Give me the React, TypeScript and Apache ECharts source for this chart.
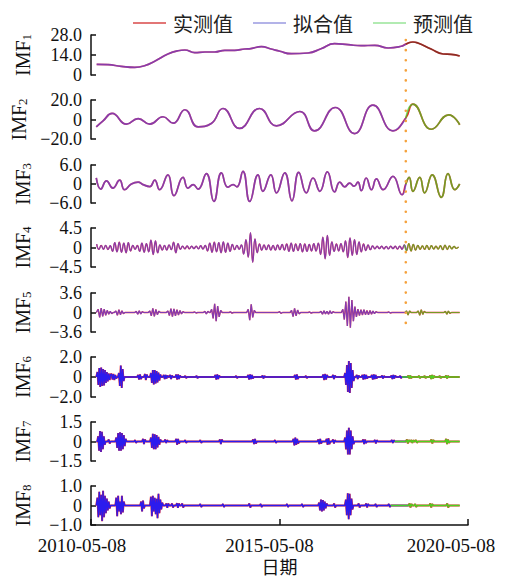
import React, { useEffect, useRef } from 'react';
import * as echarts from 'echarts';

// x values are years since 2010-05-08
const DATE_LABELS = ['2010-05-08', '2015-05-08', '2020-05-08'];
const X_MIN = 0;
const X_MAX = 10;
const X_INTERVAL = 5;
const SPLIT = 8.35; // start of the forecast period
const DATA_START = 0.14;
const DATA_END = 9.78;
const LEGEND_NAMES = ['实测值', '拟合值', '预测值'];
const X_NAME = '日期';

const Y_MAX = [28, 20, 6, 4.5, 3.6, 2, 1.5, 1];
const Y_MIN = [0, -20, -6, -4.5, -3.6, -2, -1.5, -1];
const Y_INTERVAL = [14, 20, 6, 4.5, 3.6, 2, 1.5, 1];

const IMF1: number[][] = [
  [0.15, 7.4], [0.45, 7.2], [0.8, 6.1], [1.16, 5.4], [1.42, 6.5], [1.69, 9.6], [2.04, 14.7],
  [2.31, 17.0], [2.49, 17.5], [2.75, 15.6], [3.02, 16.1], [3.28, 16.1], [3.55, 17.3], [3.81, 17.3],
  [4.08, 18.2], [4.24, 18.5], [4.52, 19.8], [4.78, 18.2], [5.01, 16.6], [5.31, 14.9], [5.76, 15.4],
  [6.1, 18.4], [6.46, 21.9], [6.82, 21.2], [7.16, 20.5], [7.53, 20.8], [7.88, 18.9], [8.23, 20.1],
  [8.35, 21.6], [8.54, 23.1], [8.67, 22.4], [9.02, 18.2], [9.34, 14.7], [9.55, 14.5], [9.78, 13.3],
];

const IMF2: number[][] = [
  [0.14, -7.5], [0.32, -1.4], [0.56, 6.2], [0.94, -4.8], [1.25, 1.0], [1.56, -4.8], [1.91, 2.8],
  [2.18, -3.8], [2.49, 10], [2.84, -7.5], [3.19, -4.1], [3.5, 11.3], [3.94, -9.2], [4.47, 11.3],
  [4.92, -6.5], [5.54, 8.2], [5.93, -11.6], [6.48, 12.3], [6.99, -14.4], [7.48, 14.7], [8.01, -11.6],
  [8.35, 1.5], [8.54, 15.7], [9.03, -10], [9.49, 4.8], [9.78, -5.4],
];

const IMF3: number[][] = [
  [0.14, 1.9], [0.26, -1.6], [0.41, 1.0], [0.58, -1.3], [0.76, 1.2], [0.89, -1.8], [1.07, 0],
  [1.25, 0.6], [1.38, -0.2], [1.56, -0.8], [1.69, 1.2], [1.82, -1.8], [2.04, 2.9], [2.2, -3.7],
  [2.44, 2.1], [2.57, -1.3], [2.71, -0.2], [2.84, -1.6], [3.06, 3.3], [3.26, -5.5], [3.46, 3.5],
  [3.63, -1.0], [3.77, -0.2], [3.87, -0.9], [4.03, 4.0], [4.21, -5.5], [4.43, 2.9], [4.56, -2.3],
  [4.77, 2.9], [4.92, -2.8], [5.14, 3.5], [5.33, -5.3], [5.51, 3.7], [5.71, -2.8], [5.89, 1.9],
  [6.07, -2.3], [6.27, 3.8], [6.46, -2.5], [6.6, 0.6], [6.73, -0.9], [6.86, 0.3], [6.98, -0.7],
  [7.08, 0.6], [7.17, -2.1], [7.3, 1.9], [7.44, -1.8], [7.57, 1.6], [7.75, -1.8], [8.01, 2.4],
  [8.25, -3.4], [8.35, 0], [8.44, 2.1], [8.54, -2.3], [8.72, 2.1], [8.85, -2.8], [9.05, 2.9],
  [9.29, -4.2], [9.47, 3.3], [9.65, -1.8], [9.78, 0],
];

const IMF4_START = 0.15;
const IMF4_STEP = 0.06;
const IMF4: number[] = [
  0.8, -0.4, 0.45, -0.4, 0.5, -0.45, 0.4,
  -0.9, 1.1, -1.0, 1.2, -1.1, 1.0, -1.2, 1.1, -0.8,
  0.5, -0.4, 0.45,
  -0.9, 1.0, -1.1, 0.9, -1.0,
  1.7, -1.6, 1.5, -1.2,
  0.6, -0.6, 0.5, -0.6, 0.6, -0.5,
  1.2, -1.2, 0.9,
  -0.4, 0.3, -0.3, 0.35, -0.3, 0.3, -0.25, 0.3, -0.3, 0.4, -0.35, 0.5,
  -0.8, 1.0, -1.1, 1.2, -1.0, 1.1, -1.2, 1.3, -1.1, 1.0, -0.9, 0.7,
  -0.5, 0.5, -0.4, 0.6,
  -1.5, 1.8, -2.2, 3.4, -3.4, 2.0,
  -1.2, 0.8, -0.6, 0.6, -0.5, 0.6, -0.6, 0.5, -0.6, 0.6, -0.5, 0.7, -0.6,
  0.8, -0.9, 1.0, -0.9, 0.8, -0.7, 0.9, -1.0, 0.8, -0.9, 0.7, -0.8, 0.9, -0.8,
  1.0, -1.6, 2.4, -2.6, 2.8, -1.8, 1.3,
  -0.9, 0.8, -0.8, 0.9, -1.0,
  1.5, -2.3, 2.2, -1.8, 1.8, -1.6, 1.3,
  -1.0, 0.8, -0.7, 0.6, -0.5,
  0.35, -0.3, 0.3, -0.25, 0.3, -0.3, 0.25, -0.3, 0.3, -0.25, 0.3, -0.35, 0.3, -0.4,
  0.6, -0.7, 0.9, -0.8, 0.7, -0.6, 0.5,
  -0.4, 0.35, -0.4, 0.5, -0.45, 0.4, -0.35, 0.3, -0.35, 0.4, -0.5, 0.55, -0.45, 0.35, -0.3, 0.25, -0.2, 0.15,
];

// bursts: [start year, consecutive samples]; the signal is ~0 between them
type Burst = [number, number[]];
const IMF5_STEP = 0.04;
const IMF5_BURSTS: Burst[] = [
  [0.19, [0.6, -0.9, 0.8, -0.7, 0.6, -0.5, 0.4, -0.3, 0.2, -0.2]],
  [0.66, [0.3, -0.5, 0.5, -0.4, 0.3, -0.2]],
  [1.2, [0.2, -0.3, 0.3, -0.25, 0.15]],
  [1.56, [0.3, -0.6, 0.75, -0.7, 0.55, -0.4, 0.25]],
  [2.04, [0.3, -0.55, 0.7, -0.75, 0.65, -0.6, 0.5, -0.45, 0.35, -0.25, 0.15]],
  [2.75, [0.1, -0.1]],
  [3.02, [0.2, -0.25, 0.2]],
  [3.2, [0.6, -1.1, 1.6, -1.6, 1.2, -0.8, 0.4]],
  [3.7, [0.12, -0.12]],
  [4.17, [0.6, -1.4, 1.5, -0.9, 0.4]],
  [5.0, [0.15, -0.15]],
  [5.32, [0.4, -0.75, 0.75, -0.6, 0.45, -0.25]],
  [5.8, [0.1, -0.12]],
  [6.1, [0.2, -0.3, 0.3, -0.25, 0.2, -0.3, 0.3, -0.2, 0.15]],
  [6.68, [0.6, -1.3, 2.0, -2.5, 2.9, -2.8, 2.3, -1.6, 1.1, -0.8, 0.6, -0.55, 0.5, -0.45, 0.5, -0.4, 0.35, -0.4, 0.35, -0.3, 0.25, -0.2, 0.15]],
  [7.9, [0.1, -0.1]],
  [8.37, [0.3, -0.45, 0.3]],
  [8.68, [0.3, -0.5, 0.5, -0.35, 0.2]],
  [9.4, [0.2, -0.3, 0.25, -0.15]],
];

const IMF6_STEP = 0.025;
const IMF6_BURSTS: Burst[] = [
  [0.17, [0.5, -0.8, 0.9, -1.0, 0.95, -0.9, 0.8, -0.85, 0.7, -0.6, 0.5, -0.45, 0.35, -0.3, 0.25, 0.3, -0.25, 0.3, -0.3, 0.2, -0.15]],
  [0.74, [0.4, -0.9, 1.15, -1.1, 0.8, -0.4]],
  [1.25, [0.2, -0.25, 0.25, -0.2]],
  [1.43, [0.3, -0.3, 0.25]],
  [1.59, [0.4, -0.6, 0.7, -0.75, 0.7, -0.65, 0.6, -0.55, 0.45, -0.35, 0.25]],
  [1.93, [0.2, -0.2, 0.2, -0.15, 0.15]],
  [2.1, [0.2, -0.2, 0.15]],
  [2.26, [0.25, -0.25, 0.25, -0.2, 0.15]],
  [2.5, [0.1, -0.1]],
  [2.8, [0.12, -0.12]],
  [3.3, [0.2, -0.25, 0.25, -0.2, 0.15]],
  [3.85, [0.1, -0.1]],
  [4.17, [0.2, -0.25, 0.25, -0.2, 0.2, -0.15]],
  [4.55, [0.15, -0.15, 0.1]],
  [5.41, [0.2, -0.25, 0.25, -0.2]],
  [5.7, [0.1, -0.1]],
  [6.16, [0.25, -0.3, 0.3, -0.25, 0.2]],
  [6.42, [0.2, -0.2, 0.15]],
  [6.74, [0.4, -0.8, 1.2, -1.5, 1.6, -1.6, 1.4, -1.1, 0.7, -0.4]],
  [7.05, [0.2, -0.2, 0.15]],
  [7.2, [0.2, -0.25, 0.25, -0.2, 0.2, -0.15]],
  [7.45, [0.2, -0.25, 0.25, -0.2, 0.2, -0.15]],
  [7.72, [0.15, -0.15, 0.1]],
  [7.97, [0.15, -0.2, 0.2, -0.15, 0.15]],
  [8.2, [0.12, -0.12]],
  [8.42, [0.15, -0.15, 0.15, -0.12]],
  [8.7, [0.12, -0.12]],
  [8.85, [0.1, -0.1]],
  [9.0, [0.15, -0.2, 0.2, -0.15, 0.12]],
  [9.25, [0.1, -0.1]],
  [9.42, [0.15, -0.15, 0.12]],
];

const IMF7_STEP = 0.025;
const IMF7_BURSTS: Burst[] = [
  [0.19, [0.4, -0.7, 0.8, -0.8, 0.75, -0.6, 0.4, -0.25]],
  [0.47, [0.15, -0.15]],
  [0.67, [0.3, -0.5, 0.65, -0.7, 0.7, -0.7, 0.65, -0.6, 0.5, -0.35, 0.2]],
  [1.17, [0.1, -0.1]],
  [1.38, [0.2, -0.2, 0.15]],
  [1.59, [0.3, -0.5, 0.6, -0.6, 0.55, -0.6, 0.5, -0.45, 0.35, -0.25, 0.15]],
  [1.97, [0.15, -0.12, 0.1]],
  [2.26, [0.2, -0.25, 0.2, -0.15]],
  [2.5, [0.1, -0.1]],
  [2.9, [0.1, -0.1]],
  [3.42, [0.15, -0.2, 0.15]],
  [4.3, [0.15, -0.2, 0.2, -0.15]],
  [4.88, [0.1, -0.1]],
  [5.37, [0.2, -0.3, 0.3, -0.25, 0.2, -0.15]],
  [6.03, [0.15, -0.2, 0.2, -0.15]],
  [6.25, [0.2, -0.25, 0.25, -0.2]],
  [6.42, [0.15, -0.15, 0.1]],
  [6.74, [0.3, -0.6, 0.85, -1.0, 1.05, -1.0, 0.85, -0.6, 0.4, -0.2]],
  [7.22, [0.15, -0.2, 0.15, -0.12]],
  [7.53, [0.12, -0.15, 0.1]],
  [7.98, [0.12, -0.12, 0.1]],
  [8.38, [0.15, -0.15, 0.12]],
  [8.5, [0.12, -0.12, 0.1]],
  [8.62, [0.12, -0.1]],
  [9.03, [0.15, -0.15, 0.12]],
  [9.42, [0.2, -0.2, 0.15, -0.1]],
];

const IMF8_STEP = 0.025;
const IMF8_BURSTS: Burst[] = [
  [0.17, [0.4, -0.6, 0.7, -0.5, 0.55, -0.8, 0.75, -0.6, 0.5, -0.4, 0.35, -0.25, 0.2, -0.15]],
  [0.67, [0.4, -0.55, 0.5, -0.3, 0.2, -0.45, 0.5, -0.35, 0.2]],
  [1.33, [0.2, -0.3, 0.25, -0.15]],
  [1.59, [0.45, -0.55, 0.5, -0.3, 0.4, -0.45, 0.35, -0.65, 0.6, -0.4, 0.3, -0.2, 0.15]],
  [2.0, [0.1, -0.12, 0.1]],
  [2.15, [0.1, -0.1]],
  [2.28, [0.12, -0.12, 0.1]],
  [2.42, [0.1, -0.1]],
  [2.9, [0.08, -0.08]],
  [3.5, [0.08, -0.08]],
  [4.2, [0.1, -0.1]],
  [4.5, [0.08, -0.08]],
  [5.2, [0.08, -0.08]],
  [5.6, [0.08, -0.08]],
  [6.05, [0.15, -0.25, 0.3, -0.3, 0.28, -0.25, 0.2, -0.15, 0.1]],
  [6.45, [0.1, -0.1]],
  [6.76, [0.3, -0.5, 0.63, -0.7, 0.6, -0.5, 0.35, -0.2]],
  [7.1, [0.1, -0.1]],
  [7.3, [0.1, -0.1, 0.08]],
  [7.55, [0.08, -0.08]],
  [7.9, [0.08, -0.08]],
  [8.45, [0.1, -0.1, 0.08]],
  [8.6, [0.08, -0.08]],
  [9.0, [0.1, -0.1, 0.08]],
  [9.45, [0.1, -0.1]],
];

// ---------- helpers ----------
function fromBursts(bursts: Burst[], step: number): number[][] {
  const pts: number[][] = [[DATA_START, 0]];
  for (const [s, vals] of bursts) {
    pts.push([+(s - step).toFixed(4), 0]);
    vals.forEach((v, k) => pts.push([+(s + k * step).toFixed(4), v]));
    pts.push([+(s + vals.length * step).toFixed(4), 0]);
  }
  pts.push([DATA_END, 0]);
  return pts;
}

function splitAt(data: number[][]) {
  let i = data.findIndex((p) => p[0] >= SPLIT);
  if (i < 0) i = data.length - 1;
  const fit = data.slice(0, i + 1);
  const startPred = data[i][0] > SPLIT ? Math.max(0, i - 1) : i;
  const pred = data.slice(startPred);
  return { fit, pred };
}

const SERIES_DATA: number[][][] = [
  IMF1,
  IMF2,
  IMF3,
  IMF4.map((v, i) => [+(IMF4_START + i * IMF4_STEP).toFixed(4), v]),
  fromBursts(IMF5_BURSTS, IMF5_STEP),
  fromBursts(IMF6_BURSTS, IMF6_STEP),
  fromBursts(IMF7_BURSTS, IMF7_STEP),
  fromBursts(IMF8_BURSTS, IMF8_STEP),
];

// ---------- styles ----------
const SERIF = '"Liberation Serif", "Times New Roman", serif';
const CJK = '"Noto Sans CJK SC", sans-serif';
const INK = '#111';
const RED = '#e8262a';
const BLUE = '#4a4aff';
const DEEP_BLUE = '#1a1aff';
const GREEN = '#44cc22';
const BRIGHT_GREEN = '#40e020';
const GRID_TOP = [35, 100, 165, 228, 293, 357, 422, 486];
const GRID_H = [40, 39, 38, 39, 39, 40, 39, 39];
const SMOOTH = [true, true, true, true, false, false, false, false];
const RED_W = [1.7, 1.7, 1.7, 1.4, 1.4, 2.0, 2.0, 2.0];
const OVER_W = [1.7, 1.7, 1.7, 1.3, 1.2, 1.3, 1.3, 1.3];
const FIT_COLOR = [BLUE, BLUE, BLUE, BLUE, BLUE, DEEP_BLUE, DEEP_BLUE, DEEP_BLUE];
const FIT_OPACITY = [0.6, 0.6, 0.6, 0.6, 0.65, 0.92, 0.92, 0.92];
const PRED_COLOR = ['#503020', GREEN, GREEN, GREEN, GREEN, BRIGHT_GREEN, BRIGHT_GREEN, BRIGHT_GREEN];
const PRED_OPACITY = [0.6, 0.7, 0.7, 0.7, 0.7, 0.92, 0.92, 0.92];
const LEGEND_COLORS = ['#d84848', '#9a9ae0', '#98e498'];

const fmtY = (v: number) => (v === 0 ? '0' : (v < 0 ? '\u2212' : '') + Math.abs(v).toFixed(1));

export default function App() {
  const ref = useRef<HTMLDivElement>(null);

  useEffect(() => {
    if (!ref.current) return;
    const chart = echarts.init(ref.current, undefined, { renderer: 'svg' });
    const axisLineStyle = { color: INK, width: 1.5 };

    const grid = GRID_TOP.map((t, i) => ({
      left: 91,
      right: 46,
      top: t,
      height: GRID_H[i],
      containLabel: false,
      outerBoundsMode: 'none',
    }));

    const dateFont = { fontFamily: SERIF, fontSize: 19, lineHeight: 16, color: INK };
    const xAxis = GRID_TOP.map((_, i) => ({
      type: 'value',
      gridIndex: i,
      min: X_MIN,
      max: X_MAX,
      interval: X_INTERVAL,
      show: i === GRID_TOP.length - 1,
      axisLine: { show: true, onZero: false, lineStyle: axisLineStyle },
      axisTick: { show: true, inside: true, length: 6, lineStyle: axisLineStyle },
      axisLabel: {
        margin: 12,
        formatter: (v: number) => {
          const k = Math.round(v / X_INTERVAL);
          return `{d${k}|${DATE_LABELS[k]}}`;
        },
        rich: {
          d0: { ...dateFont, padding: [0, 18, 0, 0] },
          d1: { ...dateFont, padding: [0, 20, 0, 0] },
          d2: { ...dateFont, padding: [0, 34, 0, 0] },
        },
      },
      splitLine: { show: false },
      name: i === GRID_TOP.length - 1 ? X_NAME : '',
      nameLocation: 'middle',
      nameGap: 32,
      nameTextStyle: { fontFamily: CJK, fontSize: 18, lineHeight: 18, color: INK },
    }));

    const yAxis = Y_MAX.map((mx, i) => ({
      type: 'value',
      gridIndex: i,
      min: Y_MIN[i],
      max: mx,
      interval: Y_INTERVAL[i],
      name: `{a|IMF}{b|${i + 1}}`,
      nameLocation: 'middle',
      nameRotate: 90,
      nameGap: 58,
      nameTextStyle: {
        rich: {
          a: { fontFamily: SERIF, fontSize: 20, color: INK },
          b: { fontFamily: SERIF, fontSize: 13, color: INK, verticalAlign: 'bottom', padding: [8, 0, 0, 0] },
        },
      },
      axisLine: { show: true, onZero: false, lineStyle: axisLineStyle },
      axisTick: { show: true, inside: true, length: 5, lineStyle: axisLineStyle },
      axisLabel: { fontFamily: SERIF, fontSize: 18, lineHeight: 14, color: INK, margin: 9, formatter: fmtY },
      splitLine: { show: false },
    }));

    const series: any[] = [];
    SERIES_DATA.forEach((data, i) => {
      const { fit, pred } = splitAt(data);
      const base = {
        type: 'line',
        xAxisIndex: i,
        yAxisIndex: i,
        symbol: 'none',
        showSymbol: false,
        smooth: SMOOTH[i],
        silent: true,
        emphasis: { disabled: true },
      };
      series.push({ ...base, name: LEGEND_NAMES[0], data, z: 2, lineStyle: { color: RED, width: RED_W[i] }, itemStyle: { color: RED } });
      series.push({ ...base, name: LEGEND_NAMES[1], data: fit, z: 3, lineStyle: { color: FIT_COLOR[i], width: OVER_W[i], opacity: FIT_OPACITY[i] }, itemStyle: { color: FIT_COLOR[i] } });
      series.push({ ...base, name: LEGEND_NAMES[2], data: pred, z: 3, lineStyle: { color: PRED_COLOR[i], width: OVER_W[i], opacity: PRED_OPACITY[i] }, itemStyle: { color: GREEN } });
    });

    chart.setOption({
      animation: false,
      backgroundColor: '#fff',
      legend: {
        left: 128,
        top: 8,
        icon: 'rect',
        itemWidth: 33,
        itemHeight: 1.6,
        itemGap: 20,
        textStyle: { fontFamily: CJK, fontSize: 20, color: '#222', padding: [0, 0, 0, 2] },
        data: LEGEND_NAMES.map((n, k) => ({
          name: n,
          icon: 'rect',
          itemStyle: { color: LEGEND_COLORS[k], borderWidth: 0 },
        })),
      },
      grid,
      xAxis,
      yAxis,
      series,
    });

    const p1 = chart.convertToPixel({ gridIndex: 0 } as any, [SPLIT, Y_MAX[0]]) as number[];
    const p2 = chart.convertToPixel({ gridIndex: 4 } as any, [SPLIT, Y_MIN[4]]) as number[];
    if (p1 && p2) {
      chart.setOption({
        graphic: [
          {
            type: 'line',
            silent: true,
            z: 100,
            shape: { x1: p1[0], y1: p1[1] + 5, x2: p2[0], y2: p2[1] },
            style: { stroke: '#f5a23c', lineWidth: 2.6, lineDash: [0.1, 10], lineCap: 'round' },
          },
        ],
      });
    }

    return () => chart.dispose();
  }, []);

  return (
    <div
      ref={ref}
      style={{ position: 'fixed', left: 0, top: 0, width: 514, height: 578, background: '#fff' }}
    />
  );
}
